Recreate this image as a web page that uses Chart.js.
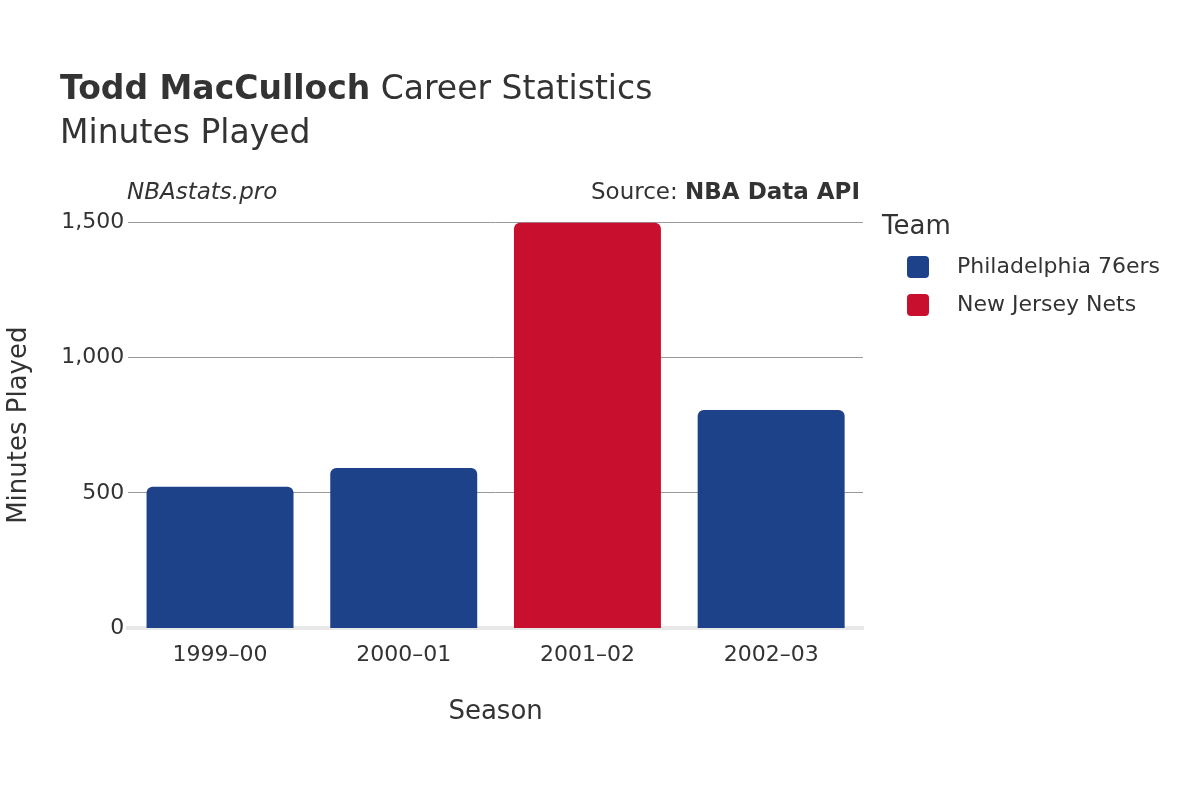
<!DOCTYPE html>
<html>
<head>
<meta charset="utf-8">
<script src="https://cdn.jsdelivr.net/npm/chart.js@4/dist/chart.umd.min.js"></script>
<style>
  body { margin: 0; background: #fff; font-family: "DejaVu Sans", sans-serif; color: #333; }
  #wrap { position: relative; width: 1200px; height: 800px; }
  .txt { position: absolute; white-space: nowrap; }
  .leg { position: absolute; font-size: 22px; }
  .sw { display: inline-block; width: 22px; height: 22px; border-radius: 4px; vertical-align: middle; margin-right: 28px; }
</style>
</head>
<body>
<div id="wrap">
  <canvas id="grafico" width="1200" height="800"></canvas>
  <div class="txt" style="left:60px; top:68px; font-size:33px;"><b>Todd MacCulloch</b> Career Statistics</div>
  <div class="txt" style="left:60px; top:112px; font-size:33px;">Minutes Played</div>
  <div class="txt" style="left:127px; top:178px; font-size:23px; font-style:italic;">NBAstats.pro</div>
  <div class="txt" style="right:340px; top:178px; font-size:23px;">Source: <b>NBA Data API</b></div>
  <div class="txt" style="left:882px; top:210px; font-size:26px;">Team</div>
  <div class="leg" style="left:907px; top:253px;"><span class="sw" style="background:#1D428A"></span>Philadelphia 76ers</div>
  <div class="leg" style="left:907px; top:291px;"><span class="sw" style="background:#C8102E"></span>New Jersey Nets</div>
</div>
<script>
// dados do gráfico
const temporadas = ['1999–00', '2000–01', '2001–02', '2002–03'];
const minutos76ers = [523, 592, null, 806];
const minutosNets = [null, null, 1497, null];
const ticksY = [0, 500, 1000, 1500];

const ctx = document.getElementById('grafico').getContext('2d');
new Chart(ctx, {
    type: 'bar',
    data: {
        labels: temporadas,
        datasets: [
            { label: 'Philadelphia 76ers', data: minutos76ers, backgroundColor: '#1D428A', borderRadius: { topLeft: 6, topRight: 6 }, borderSkipped: 'bottom' },
            { label: 'New Jersey Nets', data: minutosNets, backgroundColor: '#C8102E', borderRadius: { topLeft: 6, topRight: 6 }, borderSkipped: 'bottom' }
        ]
    },
    options: {
        responsive: false, animation: false,
        barPercentage: 0.8, categoryPercentage: 1,
        layout: { padding: { left: 0, right: 337, top: 222, bottom: 68 } },
        plugins: { legend: { display: false }, tooltip: { enabled: false } },
        scales: {
            x: {
                stacked: true,
                grid: { display: false },
                border: { color: '#e8e8e8', width: 4 },
                ticks: { color: '#333', font: { family: 'DejaVu Sans', size: 22 }, padding: 6 },
                title: { display: true, text: 'Season', color: '#333', font: { family: 'DejaVu Sans', size: 26 }, padding: { top: 22 } }
            },
            y: {
                stacked: true, min: 0, max: 1500,
                afterBuildTicks: axis => { axis.ticks = ticksY.map(v => ({ value: v })); },
                grid: { color: '#999', drawTicks: false },
                border: { display: false },
                ticks: { color: '#333', font: { family: 'DejaVu Sans', size: 22 }, padding: 4 },
                title: { display: true, text: 'Minutes Played', color: '#333', font: { family: 'DejaVu Sans', size: 26 }, padding: { bottom: 22 } }
            }
        }
    }
});
</script>
</body>
</html>
